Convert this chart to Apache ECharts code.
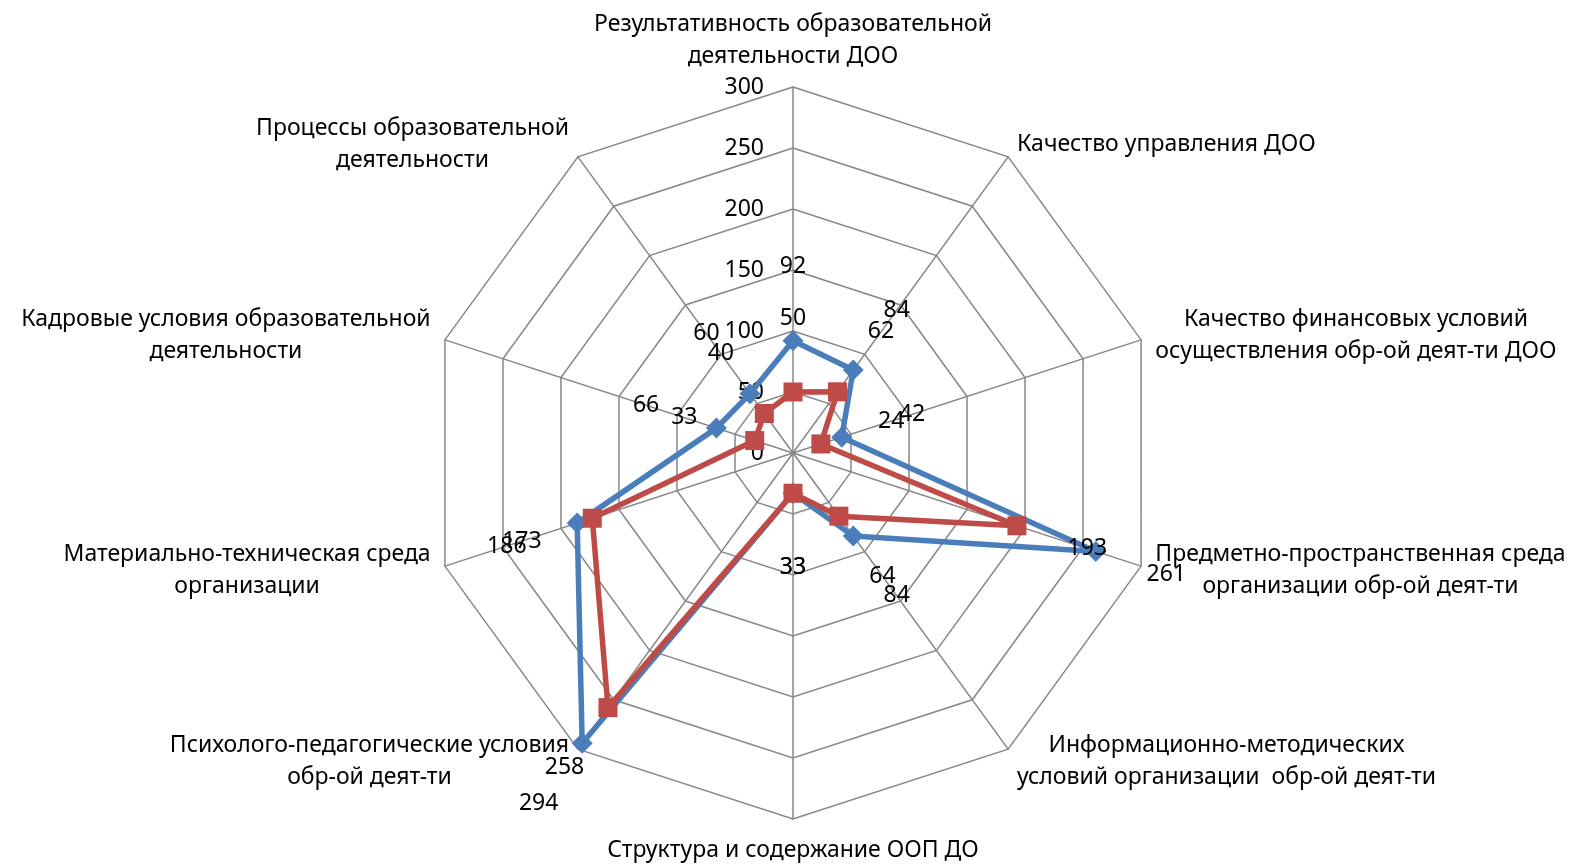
<!DOCTYPE html>
<html>
<head>
<meta charset="utf-8">
<title>Radar</title>
<script src="https://cdn.jsdelivr.net/npm/echarts@6/dist/echarts.min.js"></script>
<style>
  html, body { margin: 0; padding: 0; background: #fff; }
  #chart { width: 1581px; height: 867px; }
</style>
</head>
<body>
<div id="chart"></div>
<script>
// categories (clockwise from top)
const categories = [
  'Результативность образовательной\nдеятельности ДОО',
  'Качество управления ДОО',
  'Качество финансовых условий\nосуществления обр-ой деят-ти ДОО',
  'Предметно-пространственная среда\nорганизации обр-ой деят-ти',
  'Информационно-методических\nусловий организации  обр-ой деят-ти',
  'Структура и содержание ООП ДО',
  'Психолого-педагогические условия\nобр-ой деят-ти',
  'Материально-техническая среда\nорганизации',
  'Кадровые условия образовательной\nдеятельности',
  'Процессы образовательной\nдеятельности'
];
const blueValues = [92, 84, 42, 261, 84, 33, 294, 186, 66, 60];
const redValues = [50, 62, 24, 193, 64, 33, 258, 173, 33, 40];
const axisMax = 300;
const axisSplits = 6;

const FONT = '"Noto Sans", "Open Sans", sans-serif';
const FS = 23;
const BLUE = '#4A7EBB';
const RED = '#BE4B48';
const GRID = '#878787';

const center = [793, 453];
const radius = 366;
const labelGap = 74; // data labels sit this far outward along the axis

const chart = echarts.init(document.getElementById('chart'), null, { renderer: 'canvas' });

// echarts radar runs counter-clockwise, so feed it the categories in reverse (top stays first)
const radarOrder = categories.map(function (c, i) { return i === 0 ? 0 : categories.length - i; });
function toRadar(arr) {
  return radarOrder.map(function (k) { return arr[k]; });
}

function labelData(values) {
  return values.map(function (v, i) {
    const a = i * 2 * Math.PI / values.length;
    return {
      value: [v, i],
      label: { offset: [labelGap * Math.sin(a), -labelGap * Math.cos(a)] }
    };
  });
}

const indicators = toRadar(categories).map(function (c, i) {
  const ind = { name: c, max: axisMax, min: 0 };
  if (i === 0) ind.axisLabel = { show: true };
  return ind;
});

const labelStyle = {
  show: true, position: 'inside', color: '#000', opacity: 1, fontFamily: FONT, fontSize: FS,
  textBorderWidth: 0, textBorderColor: 'transparent',
  formatter: function (p) { return p.value[0]; }
};

const option = {
  animation: false,
  backgroundColor: '#fff',
  radar: {
    center: center,
    radius: radius,
    startAngle: 90,
    shape: 'polygon',
    splitNumber: axisSplits,
    indicator: indicators,
    axisNameGap: 15,
    axisName: {
      color: '#000',
      fontFamily: FONT,
      fontSize: FS,
      lineHeight: 32,
      formatter: function (name) {
        return name.split('\n').map(function (l) { return '{c|' + l + '}'; }).join('\n');
      },
      rich: {
        c: { align: 'center', color: '#000', fontFamily: FONT, fontSize: FS, lineHeight: 32 }
      }
    },
    axisLine: { show: true, lineStyle: { color: GRID, width: 1.5 } },
    splitLine: { show: true, lineStyle: { color: GRID, width: 1.5 } },
    splitArea: { show: false },
    axisTick: { show: false },
    axisLabel: {
      show: false,
      color: '#000',
      fontFamily: FONT,
      fontSize: FS,
      margin: 29
    }
  },
  polar: {
    center: center,
    radius: radius
  },
  angleAxis: {
    type: 'category',
    data: categories,
    startAngle: 90,
    clockwise: true,
    boundaryGap: false,
    show: false
  },
  radiusAxis: {
    type: 'value',
    min: 0,
    max: axisMax,
    show: false
  },
  series: [
    {
      name: 'blue',
      type: 'radar',
      symbol: 'diamond',
      symbolSize: 21,
      lineStyle: { color: BLUE, width: 5.5 },
      itemStyle: { color: BLUE },
      data: [{ value: toRadar(blueValues) }]
    },
    {
      name: 'red',
      type: 'radar',
      symbol: 'rect',
      symbolSize: 19,
      lineStyle: { color: RED, width: 5.5 },
      itemStyle: { color: RED },
      data: [{ value: toRadar(redValues) }]
    },
    {
      name: 'blueLabels',
      type: 'scatter',
      coordinateSystem: 'polar',
      symbolSize: 0,
      silent: true,
      itemStyle: { color: 'transparent', opacity: 1 },
      label: labelStyle,
      data: labelData(blueValues)
    },
    {
      name: 'redLabels',
      type: 'scatter',
      coordinateSystem: 'polar',
      symbolSize: 0,
      silent: true,
      itemStyle: { color: 'transparent', opacity: 1 },
      label: labelStyle,
      data: labelData(redValues)
    }
  ]
};

chart.setOption(option);
</script>
</body>
</html>
